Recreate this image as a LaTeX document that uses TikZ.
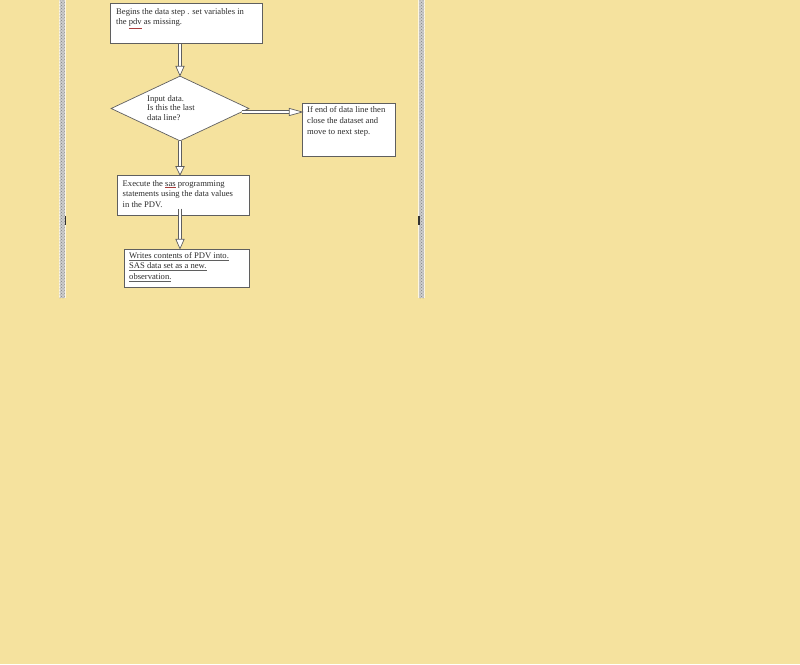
\documentclass[tikz,border=0pt]{standalone}
\usepackage{fontspec}
\setmainfont{Liberation Serif}
\usetikzlibrary{calc,patterns,shapes.geometric}
\definecolor{bg}{RGB}{245,226,158}
\definecolor{txt}{RGB}{45,45,45}
\definecolor{edge}{RGB}{95,95,95}
\definecolor{spell}{RGB}{170,60,60}
\newcommand{\spl}[1]{\textcolor{spell}{\underline{\textcolor{txt}{#1}}}}
\newcommand{\gul}[1]{\textcolor{edge}{\underline{\textcolor{txt}{#1}}}}
\tikzset{
  box/.style={draw=edge, fill=white, line width=0.7pt, inner sep=0pt, anchor=north west},
  boxtext/.style={anchor=north west, inner sep=0pt, align=left, text=txt,
    font=\fontsize{8.6pt}{10.5pt}\selectfont},
  shaft/.style={draw=edge, line width=0.7pt, double=white, double distance=2.8pt},
  head/.style={draw=edge, fill=white, line width=0.7pt, line join=miter},
  strip/.style={fill=black!20, draw=none}
}
\begin{document}
\begin{tikzpicture}[x=1pt,y=-1pt]
\useasboundingbox (0,0) rectangle (800,664);
\fill[bg] (0,0) rectangle (800,664);
% side strips
\fill[white!70!bg] (58.5,0) rectangle (65.5,298);
\fill[strip] (59.5,0) rectangle (64.5,298);
\fill[pattern=crosshatch dots, pattern color=gray] (59.5,0) rectangle (64.5,298);
\fill[white!70!bg] (418,0) rectangle (425,298);
\fill[strip] (419,0) rectangle (424,298);
\fill[pattern=crosshatch dots, pattern color=gray] (419,0) rectangle (424,298);
\fill[gray!40!black] (64.5,216) rectangle (66,225);
\fill[gray!40!black] (418,216) rectangle (419.5,225);

% boxes
\node[box, minimum width=152pt, minimum height=40pt] (b1) at (110,3.3) {};
\node[boxtext] (b1t) at (116,8) {Begins the data step . set variables in\\the \spl{pdv} as missing.};

\node[draw=edge, fill=white, line width=0.7pt, diamond,
      minimum width=138pt, minimum height=65pt, inner sep=0pt] (d) at (180,108.5) {};
\node[boxtext, font=\fontsize{8.6pt}{9.8pt}\selectfont] (dt) at (147,95) {Input data.\\Is this the last\\data line?};

\node[box, minimum width=92.5pt, minimum height=53pt] (b2) at (302.3,102.7) {};
\node[boxtext, font=\fontsize{8.6pt}{11pt}\selectfont] (b2t) at (307,106.5) {If end of data line then\\close the dataset and\\move to next step.};

\node[box, minimum width=132pt, minimum height=39.5pt] (b3) at (117.3,175) {};
\node[boxtext] (b3t) at (122.5,180) {Execute the \spl{sas} programming\\statements using the data values\\in the PDV.};

\node[box, minimum width=125.5pt, minimum height=38.5pt] (b4) at (123.5,248.7) {};
\node[boxtext] (b4t) at (129,252) {\gul{Writes contents of PDV into.}\\\gul{SAS data set as a new.}\\\gul{observation.}};

% connectors
\path[shaft] (d.north |- b1.south) -- ($(d.north)+(0,-9.5)$);
\path[head] (d.north) -- ++(-4.2,-9.5) -- ++(8.4,0) -- cycle;

\coordinate (rs) at ($(d.east)+(-7.5,3.5)$);
\path[shaft] (rs) -- ($(b2.west |- rs)+(-13,0)$);
\path[head] (b2.west |- rs) -- ++(-13,-3.6) -- ++(0,7.2) -- cycle;

\path[shaft] (d.south) -- ($(d.south |- b3.north)+(0,-8.5)$);
\path[head] (d.south |- b3.north) -- ++(-4.2,-8.5) -- ++(8.4,0) -- cycle;

\path[shaft] ($(d.south |- b3.south)+(0,-6.5)$) -- ($(d.south |- b4.north)+(0,-9.5)$);
\path[head] (d.south |- b4.north) -- ++(-4.2,-9.5) -- ++(8.4,0) -- cycle;
\end{tikzpicture}
\end{document}
